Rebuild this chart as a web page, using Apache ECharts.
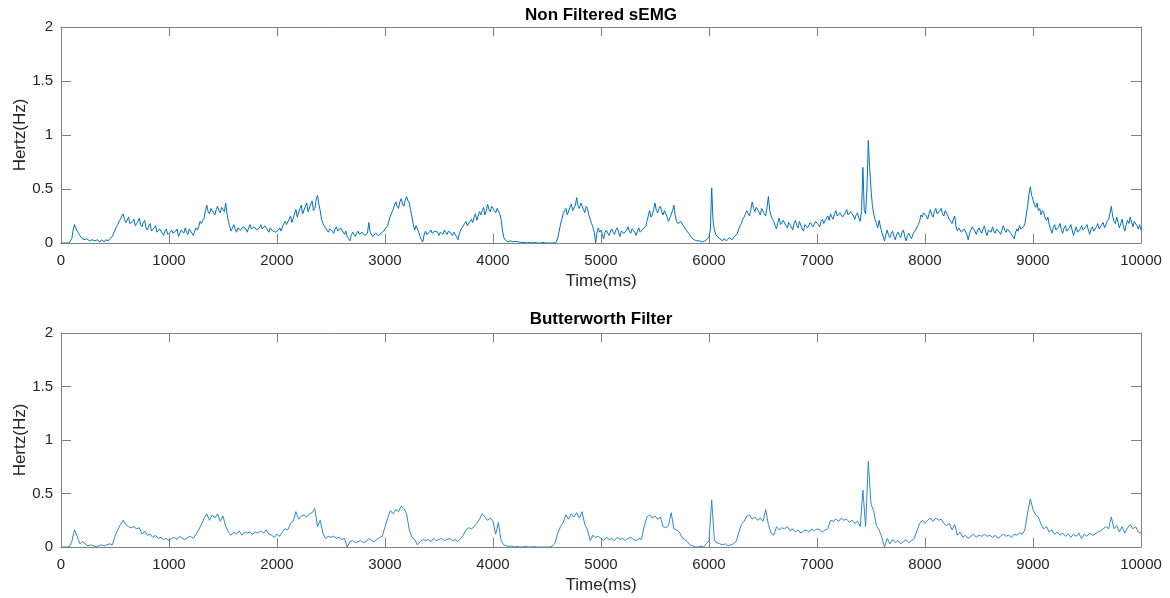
<!DOCTYPE html>
<html>
<head>
<meta charset="utf-8">
<script src="https://cdn.jsdelivr.net/npm/echarts@6/dist/echarts.min.js"></script>
<style>
  html, body { margin: 0; padding: 0; background: #fff; }
  #chart { width: 1170px; height: 598px; }
</style>
</head>
<body>
<div id="chart"></div>
<script>
// raw signal read every 12.5 ms, filtered one every 25 ms (0 .. 10000 ms)
const rawStepMs = 12.5;
const filteredStepMs = 25;
const xTicks = [0, 1000, 2000, 3000, 4000, 5000, 6000, 7000, 8000, 9000, 10000];
const yTicks = [0, 0.5, 1, 1.5, 2];

const rawValues = [
  0, 0, 0, 0, 0, 0, 0, 0, 0.04, 0.12, 0.17, 0.14, 0.11, 0.09, 0.07, 0.05, 0.05, 0.03, 0.02, 0.04, 0.04, 0.02, 0.01, 0.03, 0.03, 0.02, 0.01, 0.03, 0.02, 0.01, 0.03, 0.02, 0.01, 0.03, 0.03, 0.02, 0.04, 0.03, 0.06, 0.09,
  0.12, 0.15, 0.17, 0.2, 0.22, 0.25, 0.27, 0.22, 0.19, 0.21, 0.24, 0.18, 0.17, 0.2, 0.22, 0.16, 0.18, 0.2, 0.23, 0.17, 0.15, 0.19, 0.21, 0.14, 0.12, 0.16, 0.18, 0.11, 0.1, 0.14, 0.16, 0.1, 0.09, 0.13, 0.14, 0.09, 0.07, 0.11, 0.13, 0.08,
  0.07, 0.1, 0.12, 0.09, 0.08, 0.11, 0.13, 0.06, 0.07, 0.12, 0.11, 0.09, 0.14, 0.1, 0.08, 0.13, 0.12, 0.09, 0.07, 0.11, 0.14, 0.12, 0.15, 0.2, 0.18, 0.21, 0.23, 0.3, 0.35, 0.29, 0.27, 0.32, 0.33, 0.28, 0.26, 0.31, 0.34, 0.3, 0.28, 0.33,
  0.31, 0.29, 0.37, 0.27, 0.2, 0.15, 0.11, 0.14, 0.17, 0.13, 0.1, 0.14, 0.15, 0.12, 0.11, 0.15, 0.16, 0.13, 0.1, 0.14, 0.17, 0.13, 0.12, 0.15, 0.16, 0.12, 0.11, 0.14, 0.17, 0.13, 0.12, 0.16, 0.16, 0.12, 0.1, 0.14, 0.15, 0.11, 0.12, 0.1,
  0.09, 0.12, 0.14, 0.11, 0.15, 0.18, 0.2, 0.17, 0.16, 0.22, 0.25, 0.19, 0.2, 0.27, 0.31, 0.24, 0.25, 0.32, 0.35, 0.27, 0.28, 0.34, 0.37, 0.29, 0.3, 0.36, 0.39, 0.3, 0.32, 0.4, 0.44, 0.36, 0.3, 0.22, 0.18, 0.16, 0.14, 0.12, 0.1, 0.13,
  0.14, 0.11, 0.09, 0.13, 0.15, 0.11, 0.1, 0.14, 0.13, 0.1, 0.08, 0.11, 0.06, 0.04, 0.02, 0.07, 0.1, 0.08, 0.06, 0.09, 0.11, 0.08, 0.07, 0.1, 0.1, 0.07, 0.06, 0.09, 0.19, 0.1, 0.08, 0.06, 0.06, 0.09, 0.1, 0.07, 0.07, 0.09, 0.1, 0.11,
  0.13, 0.12, 0.16, 0.21, 0.25, 0.28, 0.31, 0.35, 0.38, 0.34, 0.32, 0.38, 0.41, 0.36, 0.34, 0.4, 0.43, 0.39, 0.37, 0.3, 0.24, 0.17, 0.12, 0.16, 0.15, 0.1, 0.06, 0.03, 0.01, 0.08, 0.11, 0.08, 0.07, 0.1, 0.12, 0.09, 0.08, 0.11, 0.12, 0.1,
  0.07, 0.1, 0.11, 0.08, 0.12, 0.1, 0.08, 0.11, 0.12, 0.09, 0.07, 0.1, 0.1, 0.06, 0.03, 0.08, 0.12, 0.14, 0.15, 0.18, 0.2, 0.16, 0.15, 0.2, 0.22, 0.19, 0.24, 0.27, 0.21, 0.25, 0.29, 0.26, 0.3, 0.33, 0.26, 0.3, 0.36, 0.31, 0.29, 0.34,
  0.33, 0.3, 0.28, 0.32, 0.31, 0.27, 0.22, 0.12, 0.05, 0.03, 0.02, 0.01, 0.01, 0.02, 0.02, 0.01, 0.01, 0.015, 0.005, 0.01, 0.01, 0.005, 0, 0.005, 0.005, 0, 0, 0.005, 0.005, 0, 0, 0.005, 0, 0, 0.005, 0, 0, 0.005, 0, 0,
  0, 0, 0.005, 0, 0, 0, 0, 0.01, 0.05, 0.11, 0.17, 0.22, 0.27, 0.3, 0.32, 0.26, 0.27, 0.33, 0.36, 0.3, 0.29, 0.35, 0.42, 0.34, 0.32, 0.37, 0.38, 0.31, 0.28, 0.34, 0.32, 0.26, 0.22, 0.18, 0.15, 0.1, 0, 0.09, 0.14, 0.1,
  0.12, 0.08, 0.04, 0.1, 0.12, 0.09, 0.07, 0.11, 0.13, 0.1, 0.08, 0.12, 0.14, 0.1, 0.06, 0.11, 0.12, 0.09, 0.08, 0.12, 0.15, 0.11, 0.09, 0.13, 0.13, 0.1, 0.07, 0.11, 0.14, 0.1, 0.09, 0.13, 0.12, 0.15, 0.2, 0.25, 0.3, 0.24, 0.26, 0.31,
  0.37, 0.3, 0.28, 0.32, 0.34, 0.29, 0.26, 0.3, 0.31, 0.24, 0.2, 0.23, 0.24, 0.3, 0.35, 0.25, 0.2, 0.18, 0.17, 0.2, 0.19, 0.16, 0.14, 0.12, 0.11, 0.09, 0.07, 0.05, 0.04, 0.03, 0.03, 0.02, 0.01, 0.02, 0.02, 0.01, 0.01, 0.02, 0.03, 0.04,
  0.06, 0.12, 0.51, 0.2, 0.12, 0.08, 0.06, 0.05, 0.04, 0.03, 0.02, 0.04, 0.05, 0.02, 0.03, 0.05, 0.06, 0.03, 0.04, 0.06, 0.05, 0.09, 0.13, 0.16, 0.18, 0.22, 0.24, 0.27, 0.3, 0.27, 0.25, 0.31, 0.38, 0.32, 0.29, 0.33, 0.34, 0.29, 0.26, 0.32,
  0.31, 0.27, 0.25, 0.33, 0.43, 0.3, 0.25, 0.22, 0.2, 0.16, 0.13, 0.19, 0.23, 0.17, 0.16, 0.21, 0.22, 0.16, 0.14, 0.19, 0.2, 0.15, 0.12, 0.18, 0.21, 0.16, 0.14, 0.2, 0.19, 0.13, 0.11, 0.17, 0.18, 0.14, 0.13, 0.19, 0.2, 0.15, 0.14, 0.2,
  0.21, 0.17, 0.15, 0.2, 0.22, 0.18, 0.17, 0.23, 0.25, 0.21, 0.27, 0.24, 0.22, 0.27, 0.3, 0.25, 0.24, 0.28, 0.29, 0.24, 0.23, 0.28, 0.31, 0.26, 0.25, 0.29, 0.3, 0.25, 0.22, 0.26, 0.28, 0.23, 0.2, 0.3, 0.7, 0.3, 0.27, 0.5, 0.95, 0.7,
  0.5, 0.35, 0.27, 0.22, 0.18, 0.14, 0.21, 0.15, 0.1, 0.06, 0.02, 0.08, 0.12, 0.07, 0.05, 0.09, 0.11, 0.06, 0.03, 0.08, 0.1, 0.07, 0.05, 0.1, 0.12, 0.06, 0.02, 0.07, 0.09, 0.06, 0.04, 0.08, 0.1, 0.12, 0.13, 0.17, 0.2, 0.26, 0.24, 0.28,
  0.28, 0.25, 0.22, 0.27, 0.31, 0.26, 0.24, 0.29, 0.32, 0.27, 0.26, 0.3, 0.32, 0.27, 0.25, 0.3, 0.3, 0.25, 0.22, 0.2, 0.18, 0.22, 0.25, 0.15, 0.11, 0.14, 0.15, 0.1, 0.09, 0.13, 0.14, 0.08, 0.03, 0.09, 0.12, 0.15, 0.15, 0.11, 0.08, 0.12,
  0.14, 0.11, 0.09, 0.13, 0.16, 0.1, 0.07, 0.12, 0.13, 0.1, 0.15, 0.11, 0.09, 0.13, 0.14, 0.1, 0.08, 0.12, 0.16, 0.12, 0.1, 0.13, 0.14, 0.1, 0.08, 0.06, 0.04, 0.09, 0.13, 0.11, 0.16, 0.13, 0.12, 0.15, 0.18, 0.26, 0.34, 0.45, 0.52, 0.44,
  0.4, 0.36, 0.33, 0.37, 0.3, 0.32, 0.26, 0.3, 0.28, 0.23, 0.21, 0.24, 0.17, 0.13, 0.09, 0.14, 0.17, 0.12, 0.11, 0.15, 0.18, 0.12, 0.09, 0.14, 0.16, 0.11, 0.1, 0.14, 0.17, 0.12, 0.07, 0.11, 0.15, 0.1, 0.09, 0.13, 0.16, 0.12, 0.11, 0.15,
  0.17, 0.12, 0.08, 0.13, 0.15, 0.11, 0.1, 0.15, 0.18, 0.13, 0.12, 0.17, 0.19, 0.14, 0.15, 0.2, 0.22, 0.27, 0.34, 0.25, 0.2, 0.18, 0.24, 0.19, 0.14, 0.18, 0.22, 0.15, 0.11, 0.17, 0.21, 0.18, 0.24, 0.19, 0.15, 0.2, 0.2, 0.16, 0.13, 0.17,
  0.12
];

const filteredValues = [
  0, 0, 0, 0, 0.05, 0.16, 0.1, 0.03, 0.05, 0.03, 0.01, 0.02, 0.01, 0.005, 0.01, 0.02, 0.01, 0.02, 0.03, 0.02,
  0.1, 0.16, 0.21, 0.25, 0.21, 0.19, 0.18, 0.19, 0.17, 0.18, 0.12, 0.15, 0.11, 0.12, 0.09, 0.11, 0.08, 0.09, 0.07, 0.08,
  0.06, 0.08, 0.09, 0.07, 0.1, 0.08, 0.07, 0.09, 0.1, 0.08, 0.12, 0.16, 0.21, 0.27, 0.31, 0.25, 0.3, 0.27, 0.31, 0.24,
  0.29, 0.19, 0.14, 0.11, 0.14, 0.12, 0.15, 0.11, 0.14, 0.13, 0.14, 0.12, 0.14, 0.13, 0.15, 0.13, 0.16, 0.12, 0.11, 0.09,
  0.12, 0.1, 0.14, 0.17, 0.16, 0.22, 0.24, 0.33, 0.26, 0.29, 0.3, 0.28, 0.31, 0.32, 0.36, 0.19, 0.25, 0.13, 0.08, 0.1,
  0.09, 0.1, 0.08, 0.09, 0.07, 0.08, 0, 0.05, 0.06, 0.04, 0.05, 0.06, 0.04, 0.05, 0.08, 0.06, 0.05, 0.07, 0.09, 0.1,
  0.19, 0.27, 0.34, 0.31, 0.35, 0.33, 0.38, 0.36, 0.31, 0.16, 0.09, 0.07, 0.02, 0.05, 0.07, 0.06, 0.07, 0.05, 0.08, 0.06,
  0.07, 0.08, 0.06, 0.07, 0.08, 0.06, 0.07, 0.05, 0.08, 0.11, 0.16, 0.18, 0.17, 0.19, 0.22, 0.26, 0.31, 0.28, 0.25, 0.27,
  0.24, 0.12, 0.23, 0.06, 0.02, 0.01, 0.005, 0.01, 0, 0.005, 0, 0, 0.005, 0, 0, 0.005, 0, 0, 0, 0,
  0, 0, 0.01, 0.04, 0.13, 0.19, 0.23, 0.3, 0.26, 0.31, 0.28, 0.32, 0.27, 0.33, 0.21, 0.16, 0.06, 0.11, 0.09, 0.1,
  0.08, 0.06, 0.09, 0.07, 0.08, 0.06, 0.09, 0.07, 0.08, 0.06, 0.08, 0.09, 0.07, 0.06, 0.08, 0.07, 0.19, 0.28, 0.3, 0.27,
  0.29, 0.26, 0.28, 0.19, 0.18, 0.2, 0.32, 0.17, 0.16, 0.14, 0.09, 0.07, 0.05, 0.02, 0.01, 0, 0, 0.01, 0, 0.03,
  0.06, 0.44, 0.06, 0.04, 0.03, 0.02, 0.03, 0.01, 0.02, 0.03, 0.05, 0.13, 0.21, 0.24, 0.29, 0.3, 0.26, 0.28, 0.25, 0.27,
  0.24, 0.35, 0.21, 0.13, 0.11, 0.19, 0.16, 0.18, 0.17, 0.19, 0.15, 0.17, 0.14, 0.16, 0.13, 0.15, 0.16, 0.14, 0.17, 0.15,
  0.17, 0.16, 0.14, 0.16, 0.17, 0.25, 0.24, 0.26, 0.24, 0.27, 0.25, 0.26, 0.23, 0.25, 0.22, 0.24, 0.19, 0.53, 0.19, 0.8,
  0.4, 0.34, 0.2, 0.16, 0.09, 0, 0.08, 0.03, 0.07, 0.04, 0.06, 0.03, 0.05, 0.07, 0.04, 0.06, 0.08, 0.15, 0.22, 0.25,
  0.22, 0.25, 0.27, 0.24, 0.27, 0.25, 0.26, 0.22, 0.2, 0.22, 0.16, 0.21, 0.11, 0.14, 0.09, 0.11, 0.08, 0.1, 0.12, 0.09,
  0.11, 0.1, 0.12, 0.1, 0.11, 0.09, 0.11, 0.08, 0.1, 0.12, 0.1, 0.11, 0.09, 0.12, 0.11, 0.13, 0.12, 0.16, 0.32, 0.45,
  0.35, 0.3, 0.28, 0.21, 0.17, 0.19, 0.14, 0.16, 0.12, 0.14, 0.11, 0.13, 0.1, 0.12, 0.09, 0.12, 0.1, 0.13, 0.08, 0.12,
  0.1, 0.13, 0.11, 0.12, 0.14, 0.15, 0.17, 0.19, 0.17, 0.28, 0.17, 0.2, 0.14, 0.19, 0.13, 0.18, 0.21, 0.17, 0.19, 0.14,
  0.13
];

const titles = ["Non Filtered sEMG", "Butterworth Filter"];
const lineColors = ["#0072bd", "#2f88cc"];

const fontFamily = "'Liberation Sans', Arial, Helvetica, sans-serif";
const axisGray = "#808080";
const textColor = "#262626";

const chart = echarts.init(document.getElementById("chart"));

const grids = [
  { left: 61, right: 29, top: 27, height: 216, outerBoundsMode: "none" },
  { left: 61, right: 29, top: 333, height: 214, outerBoundsMode: "none" },
];

const toPairs = (vals, step) => vals.map((v, i) => [i * step, v]);

const xAxes = [];
const yAxes = [];
grids.forEach((g, gi) => {
  // bottom/left axes carry labels, top/right are the mirrored box sides
  [false, true].forEach((mirror) => {
    xAxes.push({
      type: "value",
      gridIndex: gi,
      position: mirror ? "top" : "bottom",
      min: xTicks[0],
      max: xTicks[xTicks.length - 1],
      interval: 1000,
      name: mirror ? "" : "Time(ms)",
      nameLocation: "middle",
      nameGap: 30,
      nameMoveOverlap: false,
      nameTextStyle: { fontFamily, fontSize: 17, color: textColor },
      axisLine: { show: true, onZero: false, lineStyle: { color: axisGray, width: 1 } },
      axisTick: { show: true, inside: true, length: 9, lineStyle: { color: axisGray } },
      axisLabel: {
        show: !mirror,
        margin: 10,
        fontFamily,
        fontSize: 15,
        color: textColor,
        formatter: (v) => String(v),
      },
      splitLine: { show: false },
    });
    yAxes.push({
      type: "value",
      gridIndex: gi,
      position: mirror ? "right" : "left",
      min: yTicks[0],
      max: yTicks[yTicks.length - 1],
      interval: 0.5,
      name: mirror ? "" : "Hertz(Hz)",
      nameLocation: "middle",
      nameGap: 32,
      nameMoveOverlap: false,
      nameTextStyle: { fontFamily, fontSize: 17, color: textColor },
      axisLine: { show: true, onZero: false, lineStyle: { color: axisGray, width: 1 } },
      axisTick: { show: true, inside: true, length: 10, lineStyle: { color: axisGray } },
      axisLabel: { show: !mirror, margin: 8, fontFamily, fontSize: 15, color: textColor },
      splitLine: { show: false },
    });
  });
});

const option = {
  backgroundColor: "#fff",
  animation: false,
  title: titles.map((t, i) => ({
    text: t,
    left: 601,
    textAlign: "center",
    padding: 0,
    top: i === 0 ? 7 : 311,
    textStyle: { fontFamily, fontSize: 17, fontWeight: "bold", color: "#000" },
  })),
  grid: grids,
  xAxis: xAxes,
  yAxis: yAxes,
  series: [
    { vals: rawValues, step: rawStepMs },
    { vals: filteredValues, step: filteredStepMs },
  ].map((s, i) => ({
    type: "line",
    xAxisIndex: i * 2,
    yAxisIndex: i * 2,
    data: toPairs(s.vals, s.step),
    showSymbol: false,
    symbol: "none",
    lineStyle: { color: lineColors[i], width: 1 },
    silent: true,
  })),
};

chart.setOption(option);
</script>
</body>
</html>
